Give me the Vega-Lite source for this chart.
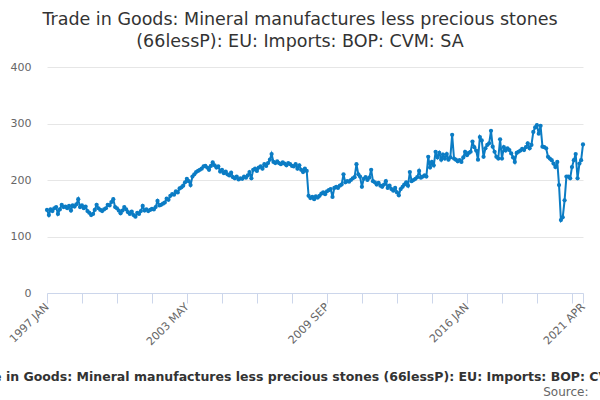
{
  "$schema": "https://vega.github.io/schema/vega-lite/v6.json",
  "width": 536,
  "height": 226,
  "autosize": "none",
  "padding": {"left": 47, "top": 67, "right": 17, "bottom": 107},
  "background": "white",
  "title": {
    "text": ["Trade in Goods: Mineral manufactures less precious stones", "(66lessP): EU: Imports: BOP: CVM: SA"],
    "font": "DejaVu Sans",
    "fontSize": 17.5,
    "fontWeight": "normal",
    "color": "#333333",
    "lineHeight": 22,
    "anchor": "middle",
    "dx": -15,
    "offset": 11
  },
  "config": {
    "view": {"stroke": null},
    "font": "DejaVu Sans"
  },
  "data": {
    "values": [
      {"date": "1997-01", "value": 147}, {"date": "1997-02", "value": 138}, {"date": "1997-03", "value": 148}, {"date": "1997-04", "value": 145},
      {"date": "1997-05", "value": 150}, {"date": "1997-06", "value": 152}, {"date": "1997-07", "value": 140}, {"date": "1997-08", "value": 148},
      {"date": "1997-09", "value": 156}, {"date": "1997-10", "value": 152}, {"date": "1997-11", "value": 153}, {"date": "1997-12", "value": 150},
      {"date": "1998-01", "value": 154}, {"date": "1998-02", "value": 146}, {"date": "1998-03", "value": 155}, {"date": "1998-04", "value": 153},
      {"date": "1998-05", "value": 157}, {"date": "1998-06", "value": 166}, {"date": "1998-07", "value": 152}, {"date": "1998-08", "value": 155},
      {"date": "1998-09", "value": 150}, {"date": "1998-10", "value": 153}, {"date": "1998-11", "value": 145}, {"date": "1998-12", "value": 142},
      {"date": "1999-01", "value": 138}, {"date": "1999-02", "value": 140}, {"date": "1999-03", "value": 147}, {"date": "1999-04", "value": 156},
      {"date": "1999-05", "value": 150}, {"date": "1999-06", "value": 147}, {"date": "1999-07", "value": 145}, {"date": "1999-08", "value": 148},
      {"date": "1999-09", "value": 150}, {"date": "1999-10", "value": 156}, {"date": "1999-11", "value": 155}, {"date": "1999-12", "value": 161},
      {"date": "2000-01", "value": 166}, {"date": "2000-02", "value": 152}, {"date": "2000-03", "value": 150}, {"date": "2000-04", "value": 146},
      {"date": "2000-05", "value": 141}, {"date": "2000-06", "value": 146}, {"date": "2000-07", "value": 152}, {"date": "2000-08", "value": 148},
      {"date": "2000-09", "value": 143}, {"date": "2000-10", "value": 140}, {"date": "2000-11", "value": 144}, {"date": "2000-12", "value": 138},
      {"date": "2001-01", "value": 135}, {"date": "2001-02", "value": 142}, {"date": "2001-03", "value": 140}, {"date": "2001-04", "value": 145},
      {"date": "2001-05", "value": 154}, {"date": "2001-06", "value": 146}, {"date": "2001-07", "value": 148}, {"date": "2001-08", "value": 145},
      {"date": "2001-09", "value": 147}, {"date": "2001-10", "value": 149}, {"date": "2001-11", "value": 148}, {"date": "2001-12", "value": 152},
      {"date": "2002-01", "value": 163}, {"date": "2002-02", "value": 155}, {"date": "2002-03", "value": 156}, {"date": "2002-04", "value": 158},
      {"date": "2002-05", "value": 160}, {"date": "2002-06", "value": 167}, {"date": "2002-07", "value": 165}, {"date": "2002-08", "value": 172},
      {"date": "2002-09", "value": 175}, {"date": "2002-10", "value": 174}, {"date": "2002-11", "value": 180}, {"date": "2002-12", "value": 178},
      {"date": "2003-01", "value": 185}, {"date": "2003-02", "value": 187}, {"date": "2003-03", "value": 190}, {"date": "2003-04", "value": 196},
      {"date": "2003-05", "value": 202}, {"date": "2003-06", "value": 198}, {"date": "2003-07", "value": 191}, {"date": "2003-08", "value": 206},
      {"date": "2003-09", "value": 210}, {"date": "2003-10", "value": 214}, {"date": "2003-11", "value": 216}, {"date": "2003-12", "value": 218},
      {"date": "2004-01", "value": 220}, {"date": "2004-02", "value": 224}, {"date": "2004-03", "value": 225}, {"date": "2004-04", "value": 222},
      {"date": "2004-05", "value": 218}, {"date": "2004-06", "value": 225}, {"date": "2004-07", "value": 231}, {"date": "2004-08", "value": 226},
      {"date": "2004-09", "value": 222}, {"date": "2004-10", "value": 224}, {"date": "2004-11", "value": 215}, {"date": "2004-12", "value": 218},
      {"date": "2005-01", "value": 212}, {"date": "2005-02", "value": 215}, {"date": "2005-03", "value": 210}, {"date": "2005-04", "value": 208},
      {"date": "2005-05", "value": 213}, {"date": "2005-06", "value": 205}, {"date": "2005-07", "value": 203}, {"date": "2005-08", "value": 206},
      {"date": "2005-09", "value": 201}, {"date": "2005-10", "value": 203}, {"date": "2005-11", "value": 202}, {"date": "2005-12", "value": 206},
      {"date": "2006-01", "value": 204}, {"date": "2006-02", "value": 208}, {"date": "2006-03", "value": 214}, {"date": "2006-04", "value": 203},
      {"date": "2006-05", "value": 218}, {"date": "2006-06", "value": 220}, {"date": "2006-07", "value": 216}, {"date": "2006-08", "value": 222},
      {"date": "2006-09", "value": 224}, {"date": "2006-10", "value": 220}, {"date": "2006-11", "value": 228}, {"date": "2006-12", "value": 225},
      {"date": "2007-01", "value": 230}, {"date": "2007-02", "value": 236}, {"date": "2007-03", "value": 246}, {"date": "2007-04", "value": 232},
      {"date": "2007-05", "value": 230}, {"date": "2007-06", "value": 233}, {"date": "2007-07", "value": 230}, {"date": "2007-08", "value": 228},
      {"date": "2007-09", "value": 231}, {"date": "2007-10", "value": 229}, {"date": "2007-11", "value": 226}, {"date": "2007-12", "value": 230},
      {"date": "2008-01", "value": 228}, {"date": "2008-02", "value": 225}, {"date": "2008-03", "value": 224}, {"date": "2008-04", "value": 228},
      {"date": "2008-05", "value": 220}, {"date": "2008-06", "value": 226}, {"date": "2008-07", "value": 218}, {"date": "2008-08", "value": 214},
      {"date": "2008-09", "value": 220}, {"date": "2008-10", "value": 216}, {"date": "2008-11", "value": 172}, {"date": "2008-12", "value": 168},
      {"date": "2009-01", "value": 170}, {"date": "2009-02", "value": 166}, {"date": "2009-03", "value": 171}, {"date": "2009-04", "value": 169},
      {"date": "2009-05", "value": 172}, {"date": "2009-06", "value": 176}, {"date": "2009-07", "value": 178}, {"date": "2009-08", "value": 175},
      {"date": "2009-09", "value": 180}, {"date": "2009-10", "value": 182}, {"date": "2009-11", "value": 184}, {"date": "2009-12", "value": 170},
      {"date": "2010-01", "value": 186}, {"date": "2010-02", "value": 188}, {"date": "2010-03", "value": 186}, {"date": "2010-04", "value": 190},
      {"date": "2010-05", "value": 192}, {"date": "2010-06", "value": 210}, {"date": "2010-07", "value": 196}, {"date": "2010-08", "value": 198},
      {"date": "2010-09", "value": 197}, {"date": "2010-10", "value": 200}, {"date": "2010-11", "value": 203}, {"date": "2010-12", "value": 205},
      {"date": "2011-01", "value": 228}, {"date": "2011-02", "value": 210}, {"date": "2011-03", "value": 206}, {"date": "2011-04", "value": 188},
      {"date": "2011-05", "value": 202}, {"date": "2011-06", "value": 205}, {"date": "2011-07", "value": 200}, {"date": "2011-08", "value": 204},
      {"date": "2011-09", "value": 218}, {"date": "2011-10", "value": 198}, {"date": "2011-11", "value": 196}, {"date": "2011-12", "value": 192},
      {"date": "2012-01", "value": 195}, {"date": "2012-02", "value": 190}, {"date": "2012-03", "value": 188}, {"date": "2012-04", "value": 192},
      {"date": "2012-05", "value": 198}, {"date": "2012-06", "value": 186}, {"date": "2012-07", "value": 190}, {"date": "2012-08", "value": 184},
      {"date": "2012-09", "value": 181}, {"date": "2012-10", "value": 186}, {"date": "2012-11", "value": 178}, {"date": "2012-12", "value": 173},
      {"date": "2013-01", "value": 184}, {"date": "2013-02", "value": 188}, {"date": "2013-03", "value": 192}, {"date": "2013-04", "value": 196},
      {"date": "2013-05", "value": 190}, {"date": "2013-06", "value": 214}, {"date": "2013-07", "value": 198}, {"date": "2013-08", "value": 200},
      {"date": "2013-09", "value": 202}, {"date": "2013-10", "value": 205}, {"date": "2013-11", "value": 216}, {"date": "2013-12", "value": 204},
      {"date": "2014-01", "value": 206}, {"date": "2014-02", "value": 208}, {"date": "2014-03", "value": 206}, {"date": "2014-04", "value": 241},
      {"date": "2014-05", "value": 222}, {"date": "2014-06", "value": 232}, {"date": "2014-07", "value": 226}, {"date": "2014-08", "value": 250},
      {"date": "2014-09", "value": 240}, {"date": "2014-10", "value": 248}, {"date": "2014-11", "value": 236}, {"date": "2014-12", "value": 245},
      {"date": "2015-01", "value": 238}, {"date": "2015-02", "value": 246}, {"date": "2015-03", "value": 236}, {"date": "2015-04", "value": 240},
      {"date": "2015-05", "value": 280}, {"date": "2015-06", "value": 238}, {"date": "2015-07", "value": 236}, {"date": "2015-08", "value": 233},
      {"date": "2015-09", "value": 235}, {"date": "2015-10", "value": 232}, {"date": "2015-11", "value": 240}, {"date": "2015-12", "value": 250},
      {"date": "2016-01", "value": 244}, {"date": "2016-02", "value": 248}, {"date": "2016-03", "value": 250}, {"date": "2016-04", "value": 268},
      {"date": "2016-05", "value": 258}, {"date": "2016-06", "value": 252}, {"date": "2016-07", "value": 236}, {"date": "2016-08", "value": 276},
      {"date": "2016-09", "value": 270}, {"date": "2016-10", "value": 241}, {"date": "2016-11", "value": 256}, {"date": "2016-12", "value": 262},
      {"date": "2017-01", "value": 265}, {"date": "2017-02", "value": 287}, {"date": "2017-03", "value": 259}, {"date": "2017-04", "value": 250},
      {"date": "2017-05", "value": 241}, {"date": "2017-06", "value": 238}, {"date": "2017-07", "value": 272}, {"date": "2017-08", "value": 238},
      {"date": "2017-09", "value": 258}, {"date": "2017-10", "value": 252}, {"date": "2017-11", "value": 256}, {"date": "2017-12", "value": 253},
      {"date": "2018-01", "value": 247}, {"date": "2018-02", "value": 240}, {"date": "2018-03", "value": 232}, {"date": "2018-04", "value": 248},
      {"date": "2018-05", "value": 250}, {"date": "2018-06", "value": 252}, {"date": "2018-07", "value": 255}, {"date": "2018-08", "value": 253},
      {"date": "2018-09", "value": 258}, {"date": "2018-10", "value": 265}, {"date": "2018-11", "value": 256}, {"date": "2018-12", "value": 262},
      {"date": "2019-01", "value": 285}, {"date": "2019-02", "value": 293}, {"date": "2019-03", "value": 297}, {"date": "2019-04", "value": 282},
      {"date": "2019-05", "value": 296}, {"date": "2019-06", "value": 259}, {"date": "2019-07", "value": 258}, {"date": "2019-08", "value": 256},
      {"date": "2019-09", "value": 241}, {"date": "2019-10", "value": 238}, {"date": "2019-11", "value": 235}, {"date": "2019-12", "value": 229},
      {"date": "2020-01", "value": 223}, {"date": "2020-02", "value": 232}, {"date": "2020-03", "value": 191}, {"date": "2020-04", "value": 129},
      {"date": "2020-05", "value": 134}, {"date": "2020-06", "value": 164}, {"date": "2020-07", "value": 206}, {"date": "2020-08", "value": 206},
      {"date": "2020-09", "value": 203}, {"date": "2020-10", "value": 223}, {"date": "2020-11", "value": 235}, {"date": "2020-12", "value": 246},
      {"date": "2021-01", "value": 203}, {"date": "2021-02", "value": 229}, {"date": "2021-03", "value": 235}, {"date": "2021-04", "value": 263}
    ]
  },
  "encoding": {
    "x": {
      "field": "date",
      "type": "temporal",
      "scale": {
        "type": "utc",
        "domain": [{"year": 1997, "month": 1, "date": 1, "utc": true}, {"year": 2021, "month": 4, "date": 1, "utc": true}]
      },
      "axis": {
        "values": [
          {"year": 1997, "month": 1, "date": 1, "utc": true}, {"year": 1998, "month": 8, "date": 1, "utc": true},
          {"year": 2000, "month": 3, "date": 1, "utc": true}, {"year": 2001, "month": 10, "date": 1, "utc": true},
          {"year": 2003, "month": 5, "date": 1, "utc": true}, {"year": 2004, "month": 12, "date": 1, "utc": true},
          {"year": 2006, "month": 7, "date": 1, "utc": true}, {"year": 2008, "month": 2, "date": 1, "utc": true},
          {"year": 2009, "month": 9, "date": 1, "utc": true}, {"year": 2011, "month": 4, "date": 1, "utc": true},
          {"year": 2012, "month": 11, "date": 1, "utc": true}, {"year": 2014, "month": 6, "date": 1, "utc": true},
          {"year": 2016, "month": 1, "date": 1, "utc": true}, {"year": 2017, "month": 8, "date": 1, "utc": true},
          {"year": 2019, "month": 3, "date": 1, "utc": true}, {"year": 2020, "month": 10, "date": 1, "utc": true},
          {"year": 2021, "month": 4, "date": 1, "utc": true}
        ],
        "labelExpr": "indexof(['1997 JAN','2003 MAY','2009 SEP','2016 JAN','2021 APR'], upper(utcFormat(datum.value, '%Y %b'))) >= 0 ? upper(utcFormat(datum.value, '%Y %b')) : ''",
        "labelAngle": -45,
        "labelAlign": "right",
        "labelBaseline": "middle",
        "labelColor": "#666666",
        "labelFontSize": 11,
        "labelPadding": 2,
        "labelOverlap": false,
        "labelFlush": false,
        "grid": false,
        "tickSize": 10,
        "tickColor": "#ccd6eb",
        "domainColor": "#ccd6eb",
        "title": "Trade in Goods: Mineral manufactures less precious stones (66lessP): EU: Imports: BOP: CVM: SA",
        "titleFontSize": 12.5,
        "titleFontWeight": "bold",
        "titleColor": "#333333",
        "titleX": 258,
        "titleY": 83,
        "titleBaseline": "middle"
      }
    },
    "y": {
      "field": "value",
      "type": "quantitative",
      "scale": {"domain": [0, 400], "nice": false},
      "axis": {
        "values": [0, 100, 200, 300, 400],
        "grid": true,
        "gridColor": "#e6e6e6",
        "domain": false,
        "ticks": false,
        "labelPadding": 16,
        "labelColor": "#666666",
        "labelFontSize": 11,
        "title": "Source:",
        "titleAngle": 0,
        "titleX": 541,
        "titleY": 324,
        "titleAlign": "right",
        "titleBaseline": "middle",
        "titleFontSize": 12,
        "titleFontWeight": "normal",
        "titleColor": "#666666"
      }
    }
  },
  "layer": [
    {"mark": {"type": "line", "color": "#0b7cc4", "strokeWidth": 2}},
    {"mark": {"type": "point", "filled": true, "color": "#0b7cc4", "size": 18, "opacity": 1}}
  ]
}
